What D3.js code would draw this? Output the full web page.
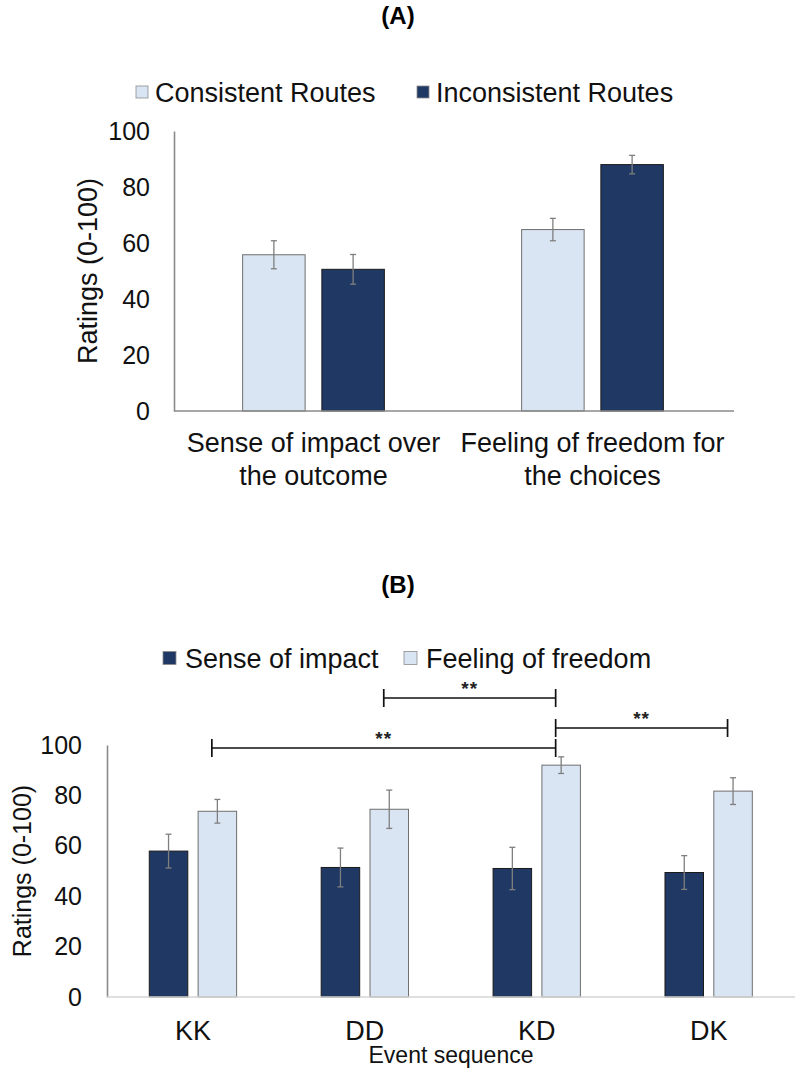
<!DOCTYPE html>
<html>
<head>
<meta charset="utf-8">
<script src="https://cdn.jsdelivr.net/npm/d3@7"></script>
<style>
  html, body { margin: 0; padding: 0; background: #fff; }
  svg { display: block; font-family: "Liberation Sans", Arial, sans-serif; }
</style>
</head>
<body>
<svg id="fig" width="795" height="1068"></svg>
<script>
// ---------- Panel A data ----------
const measuresA = [
  ["Sense of impact over", "the outcome"],
  ["Feeling of freedom for", "the choices"]
];
const seriesA = ["Consistent Routes", "Inconsistent Routes"];
const consistentA = [55.8, 64.8];
const consistentErrA = [5.0, 4.0];
const inconsistentA = [50.6, 88.0];
const inconsistentErrA = [5.3, 3.3];

// ---------- Panel B data ----------
const sequencesB = ["KK", "DD", "KD", "DK"];
const seriesB = ["Sense of impact", "Feeling of freedom"];
const impactB = [57.9, 51.4, 51.0, 49.4];
const impactErrB = [6.7, 7.7, 8.4, 6.7];
const freedomB = [73.7, 74.5, 92.0, 81.7];
const freedomErrB = [4.7, 7.6, 3.3, 5.3];
// significance brackets between "Feeling of freedom" bars: [from, to, level]
const bracketsB = [["DD", "KD", 0], ["KD", "DK", 1], ["KK", "KD", 2]];
const bracketLabel = "**";

const yTicks = [0, 20, 40, 60, 80, 100];

const DARK = "#203864";
const LIGHT = "#dae5f3";
const ERR = "#7f7f7f";

const svg = d3.select("#fig");

// Draws one grouped bar panel; returns the scales for extra annotations
function panel(opt) {
  const g = svg.append("g");
  const y = d3.scaleLinear().domain([0, 100]).range([opt.y0, opt.y1]);
  const x = d3.scaleBand().domain(opt.cats).range([opt.x0, opt.x1]);
  const step = x.bandwidth();
  const bw = step * 0.224, gap = step * 0.06;
  const barX = (c, i) => x(c) + step / 2 + (i === 0 ? -gap / 2 - bw : gap / 2);

  // title
  g.append("text").attr("x", 398).attr("y", opt.titleY)
    .attr("text-anchor", "middle").attr("font-size", 24).attr("font-weight", "bold")
    .text(opt.title);

  // legend
  const lg = g.append("g");
  opt.legend.forEach((l) => {
    lg.append("rect").attr("x", l.x).attr("y", opt.legendY - opt.sq / 2).attr("width", opt.sq).attr("height", opt.sq)
      .attr("fill", l.color).attr("stroke", "#8c8c8c").attr("stroke-width", 0.8);
    lg.append("text").attr("x", l.x + opt.sq + opt.sqGap).attr("y", opt.legendY + 9.5)
      .attr("font-size", 27).attr("fill", "#111").text(l.name);
  });

  // y axis
  const ya = g.append("g").attr("transform", `translate(${opt.x0},0)`)
    .call(d3.axisLeft(y).tickValues(yTicks).tickSize(0).tickPadding(opt.tickPad));
  ya.select(".domain").attr("stroke", "#8a8a8a").attr("stroke-width", 1.6);
  ya.selectAll("text").attr("font-size", 25).attr("fill", "#111")
    .attr("font-family", "Liberation Sans, Arial, sans-serif");

  g.append("text")
    .attr("transform", `translate(${opt.ylabelX},${(opt.y0 + opt.y1) / 2}) rotate(-90)`)
    .attr("text-anchor", "middle").attr("dy", "0.35em")
    .attr("font-size", opt.ylabelSize).attr("fill", "#111").text("Ratings (0-100)");

  // bars
  opt.series.forEach((s, i) => {
    g.append("g").selectAll("rect").data(opt.cats).join("rect")
      .attr("x", (c) => barX(c, i))
      .attr("y", (c, k) => y(s.values[k]))
      .attr("width", bw)
      .attr("height", (c, k) => y(0) - y(s.values[k]))
      .attr("fill", s.color)
      .attr("stroke", s.stroke).attr("stroke-width", 1);
  });

  // error bars
  opt.series.forEach((s, i) => {
    const eg = g.append("g").attr("stroke", ERR).attr("stroke-width", 1.3);
    opt.cats.forEach((c, k) => {
      const cx = barX(c, i) + bw / 2;
      const hi = y(s.values[k] + s.err[k]), lo = y(s.values[k] - s.err[k]);
      eg.append("line").attr("x1", cx).attr("x2", cx).attr("y1", hi).attr("y2", lo);
      eg.append("line").attr("x1", cx - 3).attr("x2", cx + 3).attr("y1", hi).attr("y2", hi);
      eg.append("line").attr("x1", cx - 3).attr("x2", cx + 3).attr("y1", lo).attr("y2", lo);
    });
  });

  // x axis line
  g.append("line").attr("x1", opt.x0).attr("x2", opt.xEnd)
    .attr("y1", y(0)).attr("y2", y(0))
    .attr("stroke", opt.xAxisColor).attr("stroke-width", 1.6);

  return { x, y, step, bw, gap, barX, g };
}

// ---------- Panel A ----------
const A = panel({
  title: "(A)", titleY: 24,
  cats: measuresA.map((d) => d.join(" ")),
  x0: 174, x1: 732, y0: 411, y1: 131, xEnd: 734,
  tickPad: 24, ylabelX: 88, ylabelSize: 27,
  legendY: 92, sq: 12, sqGap: 7,
  legend: [{ x: 136, name: seriesA[0], color: LIGHT }, { x: 417, name: seriesA[1], color: DARK }],
  series: [
    { values: consistentA, err: consistentErrA, color: LIGHT, stroke: "#6f6f6f" },
    { values: inconsistentA, err: inconsistentErrA, color: DARK, stroke: "#1a1a1a" }
  ],
  xAxisColor: "#8a8a8a"
});
measuresA.forEach((lines) => {
  const cx = A.x(lines.join(" ")) + A.step / 2;
  const t = A.g.append("text").attr("text-anchor", "middle").attr("font-size", 27).attr("fill", "#111");
  lines.forEach((ln, j) => t.append("tspan").attr("x", cx).attr("y", 452 + j * 33).text(ln));
});

// ---------- Panel B ----------
const B = panel({
  title: "(B)", titleY: 593,
  cats: sequencesB,
  x0: 107, x1: 794.6, y0: 997, y1: 745, xEnd: 795,
  tickPad: 25, ylabelX: 22, ylabelSize: 25,
  legendY: 658, sq: 13, sqGap: 9,
  legend: [{ x: 163, name: seriesB[0], color: DARK }, { x: 404, name: seriesB[1], color: LIGHT }],
  series: [
    { values: impactB, err: impactErrB, color: DARK, stroke: "#1a1a1a" },
    { values: freedomB, err: freedomErrB, color: LIGHT, stroke: "#6f6f6f" }
  ],
  xAxisColor: "#d4d4d4"
});
sequencesB.forEach((c) => {
  B.g.append("text").attr("x", B.x(c) + B.step / 2).attr("y", 1040)
    .attr("text-anchor", "middle").attr("font-size", 27).attr("fill", "#111").text(c);
});
B.g.append("text").attr("x", (107 + 795) / 2).attr("y", 1063).attr("text-anchor", "middle")
  .attr("font-size", 23).attr("fill", "#111").text("Event sequence");

// significance brackets, anchored a little left of each freedom bar's centre
const levelY = [698, 728, 748];
const anchor = (c) => B.x(c) + B.step * 0.61;
bracketsB.forEach(([from, to, lv]) => {
  const xa = anchor(from), xb = anchor(to);
  const yy = levelY[lv];
  const bg = B.g.append("g").attr("stroke", "#111").attr("stroke-width", 1.7);
  bg.append("line").attr("x1", xa).attr("x2", xb).attr("y1", yy).attr("y2", yy);
  bg.append("line").attr("x1", xa).attr("x2", xa).attr("y1", yy - 9).attr("y2", yy + 9);
  bg.append("line").attr("x1", xb).attr("x2", xb).attr("y1", yy - 9).attr("y2", yy + 9);
  B.g.append("text").attr("x", (xa + xb) / 2).attr("y", yy - 3)
    .attr("text-anchor", "middle").attr("font-size", 19).attr("font-weight", "bold").attr("fill", "#222")
    .attr("letter-spacing", 1).text(bracketLabel);
});
</script>
</body>
</html>
